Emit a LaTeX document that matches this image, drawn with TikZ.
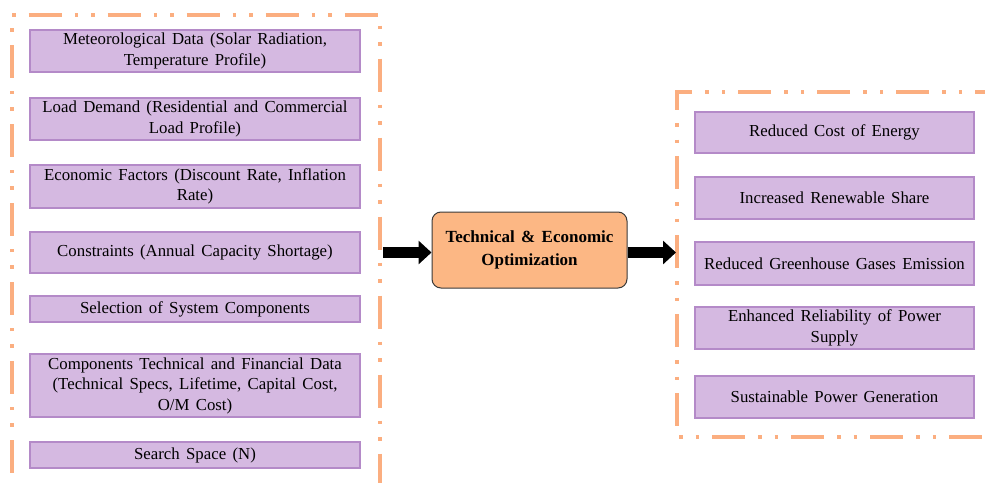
\documentclass[tikz,border=0pt]{standalone}
\usepackage{fontspec}
\setmainfont{Liberation Serif}[WordSpace={1.5,1,1}]
\usetikzlibrary{arrows.meta}
\definecolor{boxfill}{HTML}{D5B9E1}
\definecolor{boxline}{HTML}{B48AC8}
\definecolor{frameor}{HTML}{FBAE80}
\definecolor{optfill}{HTML}{FCB784}
\definecolor{optline}{HTML}{3A3A3A}
\tikzset{
  inbox/.style={draw=boxline, fill=boxfill, line width=1.3pt, minimum width=330pt, align=center, inner sep=0pt, font=\fontsize{16.8}{20.5}\selectfont},
  outbox/.style={draw=boxline, fill=boxfill, line width=1.3pt, minimum width=279pt, align=center, inner sep=0pt, font=\fontsize{16.8}{20.5}\selectfont},
  frame/.style={draw=frameor, line width=3.5pt, dash pattern=on 33pt off 13pt on 3.5pt off 13pt on 3.5pt off 13pt},
  optbox/.style={draw=optline, fill=optfill, line width=1pt, rounded corners=9pt, minimum width=195pt, minimum height=76pt, align=center, font=\fontsize{17}{23}\selectfont\bfseries},
  bigarrow/.style={line width=11pt, -{Triangle[length=13pt,width=23pt]}}
}
\begin{document}
\begin{tikzpicture}[x=1pt,y=-1pt]
\useasboundingbox (0,0) rectangle (985,482);
\clip (0,0) rectangle (985,482);
% frames
\draw[frame, dash phase=31.5pt] (12,520) -- (12,15) -- (380,15) -- (380,520);
\draw[frame, dash phase=67pt] (1020,92) -- (677,92) -- (677,437) -- (1020,437);
% input boxes
\node[inbox, minimum height=42pt] (b1) at (195,51) {Meteorological Data (Solar Radiation,\\Temperature Profile)};
\node[inbox, minimum height=42pt] (b2) at (195,119) {Load Demand (Residential and Commercial\\Load Profile)};
\node[inbox, minimum height=43pt] (b3) at (195,186.5) {Economic Factors (Discount Rate, Inflation\\Rate)};
\node[inbox, minimum height=41pt] (b4) at (195,252.5) {Constraints (Annual Capacity Shortage)};
\node[inbox, minimum height=26pt] (b5) at (195,309) {Selection of System Components};
\node[inbox, minimum height=63pt] (b6) at (195,385.5) {Components Technical and Financial Data\\(Technical Specs, Lifetime, Capital Cost,\\O/M Cost)};
\node[inbox, minimum height=26pt] (b7) at (195,455) {Search Space (N)};
% optimization
\node[optbox] (opt) at (529.5,250) {Technical \& Economic\\Optimization};
% outputs
\node[outbox, minimum height=41pt] (o1) at (834.5,132.5) {Reduced Cost of Energy};
\node[outbox, minimum height=42pt] (o2) at (834.5,198) {Increased Renewable Share};
\node[outbox, minimum height=43pt] (o3) at (834.5,263.5) {Reduced Greenhouse Gases Emission};
\node[outbox, minimum height=42pt] (o4) at (834.5,328) {Enhanced Reliability of Power\\Supply};
\node[outbox, minimum height=42pt] (o5) at (834.5,397) {Sustainable Power Generation};
% arrows
\coordinate (lin) at (383,252.5);
\coordinate (rout) at (676,252.5);
\draw[bigarrow] (lin) -- (lin -| opt.west);
\draw[bigarrow] (rout -| opt.east) -- (rout);
\end{tikzpicture}
\end{document}
